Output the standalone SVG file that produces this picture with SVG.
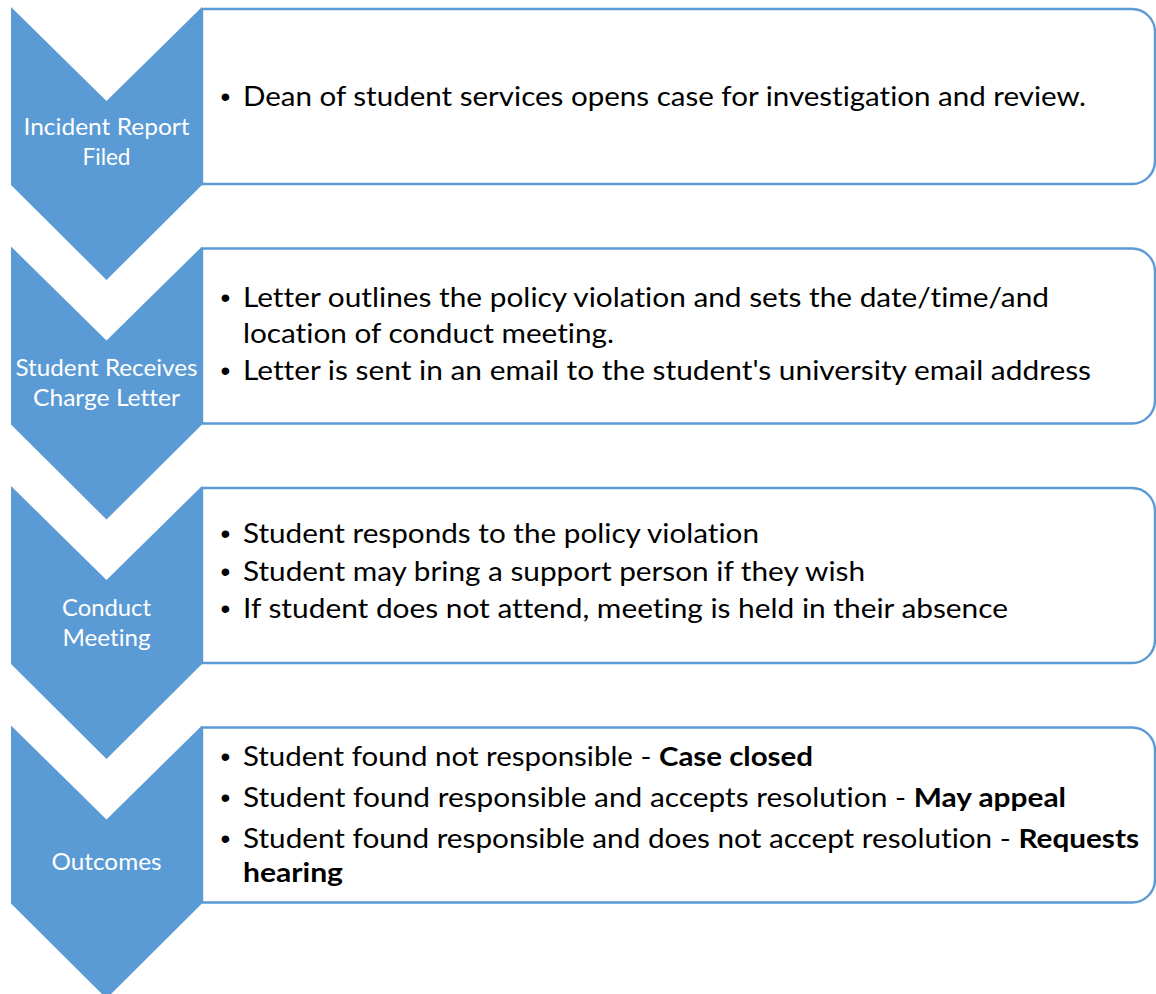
<svg xmlns="http://www.w3.org/2000/svg" width="1156" height="994" viewBox="0 0 1156 994">
<style>
.chev{fill:#5B9BD5;}
.box{fill:#FFFFFF;stroke:#5B9BD5;stroke-width:2.4;}
.lbl{font-family:Lato,"Open Sans","Liberation Sans",sans-serif;font-size:22.5px;fill:#FFFFFF;text-anchor:middle;font-variant-ligatures:none;}
.txt{font-family:Lato,"Open Sans","Liberation Sans",sans-serif;font-size:26px;fill:#000000;font-variant-ligatures:none;}
.bul{font-family:"Liberation Sans",Arial,sans-serif;font-size:28px;fill:#000000;text-anchor:middle;}
.b{font-weight:bold;}
</style>
<rect width="1156" height="994" fill="#FFFFFF"/>
<g id="step1">
<path class="box" d="M202,9 H1132 A23,23 0 0 1 1155,32 V161 A23,23 0 0 1 1132,184 H202 Z"/>
<path class="chev" d="M11,7 L106.5,101 L202,7 V185 L106.5,280 L11,185 Z"/>
<text class="lbl" x="106.5" y="135" textLength="166" lengthAdjust="spacingAndGlyphs">Incident Report</text>
<text class="lbl" x="106.5" y="165" textLength="48" lengthAdjust="spacingAndGlyphs">Filed</text>
<text class="bul" x="225.5" y="106">•</text>
<text class="txt" x="243" y="106" textLength="843" lengthAdjust="spacingAndGlyphs">Dean of student services opens case for investigation and review.</text>
</g>
<g id="step2">
<path class="box" d="M202,248.5 H1132 A23,23 0 0 1 1155,271.5 V400.5 A23,23 0 0 1 1132,423.5 H202 Z"/>
<path class="chev" d="M11,246.5 L106.5,340.5 L202,246.5 V424.5 L106.5,519.5 L11,424.5 Z"/>
<text class="lbl" x="106.5" y="376" textLength="182" lengthAdjust="spacingAndGlyphs">Student Receives</text>
<text class="lbl" x="106.5" y="406" textLength="147" lengthAdjust="spacingAndGlyphs">Charge Letter</text>
<text class="bul" x="225.5" y="307">•</text>
<text class="txt" x="243" y="307" textLength="806" lengthAdjust="spacingAndGlyphs">Letter outlines the policy violation and sets the date/time/and</text>
<text class="txt" x="243" y="343" textLength="371" lengthAdjust="spacingAndGlyphs">location of conduct meeting.</text>
<text class="bul" x="225.5" y="380">•</text>
<text class="txt" x="243" y="380" textLength="848" lengthAdjust="spacingAndGlyphs">Letter is sent in an email to the student's university email address</text>
</g>
<g id="step3">
<path class="box" d="M202,488 H1132 A23,23 0 0 1 1155,511 V640 A23,23 0 0 1 1132,663 H202 Z"/>
<path class="chev" d="M11,486 L106.5,580 L202,486 V664 L106.5,759 L11,664 Z"/>
<text class="lbl" x="106.5" y="616" textLength="89" lengthAdjust="spacingAndGlyphs">Conduct</text>
<text class="lbl" x="106.5" y="646" textLength="88" lengthAdjust="spacingAndGlyphs">Meeting</text>
<text class="bul" x="225.5" y="543">•</text>
<text class="txt" x="243" y="543" textLength="516" lengthAdjust="spacingAndGlyphs">Student responds to the policy violation</text>
<text class="bul" x="225.5" y="581">•</text>
<text class="txt" x="243" y="581" textLength="622" lengthAdjust="spacingAndGlyphs">Student may bring a support person if they wish</text>
<text class="bul" x="225.5" y="618">•</text>
<text class="txt" x="243" y="618" textLength="765" lengthAdjust="spacingAndGlyphs">If student does not attend, meeting is held in their absence</text>
</g>
<g id="step4">
<path class="box" d="M202,727.5 H1132 A23,23 0 0 1 1155,750.5 V879.5 A23,23 0 0 1 1132,902.5 H202 Z"/>
<path class="chev" d="M11,725.5 L106.5,819.5 L202,725.5 V903.5 L106.5,998.5 L11,903.5 Z"/>
<text class="lbl" x="106.5" y="870" textLength="110" lengthAdjust="spacingAndGlyphs">Outcomes</text>
<text class="bul" x="225.5" y="766">•</text>
<text class="txt" x="243" y="766" textLength="570" lengthAdjust="spacingAndGlyphs">Student found not responsible - <tspan class="b">Case closed</tspan></text>
<text class="bul" x="225.5" y="807">•</text>
<text class="txt" x="243" y="807" textLength="823" lengthAdjust="spacingAndGlyphs">Student found responsible and accepts resolution - <tspan class="b">May appeal</tspan></text>
<text class="bul" x="225.5" y="848">•</text>
<text class="txt" x="243" y="848" textLength="896" lengthAdjust="spacingAndGlyphs">Student found responsible and does not accept resolution - <tspan class="b">Requests</tspan></text>
<text class="txt b" x="243" y="882" textLength="100" lengthAdjust="spacingAndGlyphs">hearing</text>
</g>
<g id="connectors"></g>
</svg>
